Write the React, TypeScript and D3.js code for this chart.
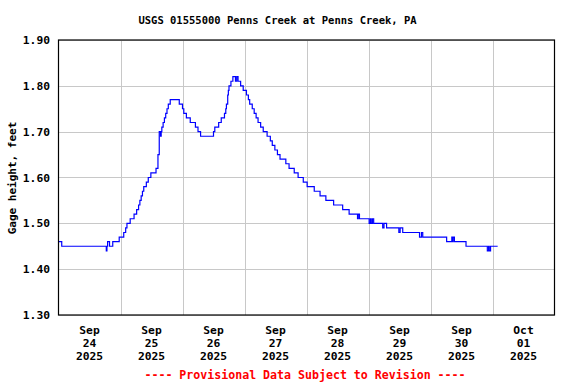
import React from "react";
import * as d3 from "d3";

// Hours since Sep 24 2025 00:00 at which the reading changes, and the new gage height (ft)
const stepHours = [
  0, 1.25, 18.5, 18.75, 19, 19.75, 21, 23.5, 25.25, 26, 26.5, 27.75, 29.25, 30.25, 31, 31.5, 32, 32.5, 33, 34,
  34.75, 35.75, 37.75, 38.5, 39, 39.5, 39.75, 40, 40.5, 41, 41.5, 42, 42.5, 43.25, 46.75, 48, 48.5, 49.5, 51, 53,
  54, 55, 60, 60.5, 62, 63, 64.25, 64.75, 65, 65.5, 65.75, 66, 66.75, 67.5, 68.5, 69, 69.5, 70.5, 71.5, 72.75,
  73.5, 74, 75, 75.75, 76.5, 77.25, 78.25, 79.25, 80.75, 82, 82.75, 83.75, 84.75, 85.75, 88, 89.25, 91.25, 92.75, 94.75, 96.25,
  99, 101.25, 103.5, 106.5, 110, 112.5, 115.75, 116, 116.5, 120.25, 120.75, 121, 121.5, 122, 125.5, 126, 127, 131.75,
  132.25, 133.25, 139.75, 140.5, 141, 150.25, 152.25, 152.5, 152.75, 153.25, 157.75, 166, 166.5, 166.75, 167.25, 170,
];
const stepValues = [
  1.46, 1.45, 1.44, 1.45, 1.46, 1.45, 1.46, 1.47, 1.48, 1.49, 1.5, 1.51, 1.52, 1.53, 1.54, 1.55, 1.56, 1.57, 1.58, 1.59,
  1.6, 1.61, 1.62, 1.65, 1.7, 1.69, 1.7, 1.71, 1.72, 1.73, 1.74, 1.75, 1.76, 1.77, 1.76, 1.75, 1.74, 1.73, 1.72, 1.71,
  1.7, 1.69, 1.7, 1.71, 1.72, 1.73, 1.74, 1.75, 1.76, 1.78, 1.79, 1.8, 1.81, 1.82, 1.81, 1.82, 1.81, 1.8, 1.79, 1.78,
  1.77, 1.76, 1.75, 1.74, 1.73, 1.72, 1.71, 1.7, 1.69, 1.68, 1.67, 1.66, 1.65, 1.64, 1.63, 1.62, 1.61, 1.6, 1.59, 1.58,
  1.57, 1.56, 1.55, 1.54, 1.53, 1.52, 1.51, 1.52, 1.51, 1.5, 1.51, 1.5, 1.51, 1.5, 1.49, 1.5, 1.49, 1.48,
  1.49, 1.48, 1.47, 1.48, 1.47, 1.46, 1.47, 1.46, 1.47, 1.46, 1.45, 1.44, 1.45, 1.44, 1.45, 1.45,
];

const yTicks = [1.3, 1.4, 1.5, 1.6, 1.7, 1.8, 1.9];
const dayMonths = ["Sep", "Sep", "Sep", "Sep", "Sep", "Sep", "Sep", "Oct"];
const dayNumbers = ["24", "25", "26", "27", "28", "29", "30", "01"];
const dayYears = ["2025", "2025", "2025", "2025", "2025", "2025", "2025", "2025"];

const title = "USGS 01555000 Penns Creek at Penns Creek, PA";
const yTitle = "Gage height, feet";
const footer = "---- Provisional Data Subject to Revision ----";

const W = 576;
const H = 384;
const M = { left: 58.5, right: 554.5, top: 40, bottom: 315 };
const FONT = "'DejaVu Sans Mono', 'Liberation Mono', monospace";

const start = new Date(2025, 8, 24, 0, 0);
const end = new Date(2025, 9, 2, 0, 0);

export default function App() {
  const x = d3.scaleTime().domain([start, end]).range([M.left, M.right]);
  const y = d3.scaleLinear().domain([1.3, 1.9]).range([M.bottom, M.top]);

  const data = stepHours.map((h, i) => ({
    t: new Date(start.getTime() + h * 3600 * 1000),
    v: stepValues[i],
  }));
  const line = d3
    .line<{ t: Date; v: number }>()
    .x((d) => x(d.t))
    .y((d) => y(d.v))
    .curve(d3.curveStepAfter);

  const dayStarts = d3.timeDay.range(start, end);
  const gridDays = dayStarts.slice(1);

  return (
    <svg
      width={W}
      height={H}
      style={{ position: "absolute", left: 0, top: 0, background: "#fff" }}
      fontFamily={FONT}
      fontWeight="bold"
    >
      <rect x={0} y={0} width={W} height={H} fill="#fff" />
      <text x={277.5} y={24} textAnchor="middle" fontSize={10.5} fill="#000">
        {title}
      </text>
      {yTicks.map((t) => (
        <line
          key={"gy" + t}
          x1={M.left}
          x2={M.right}
          y1={Math.round(y(t)) + 0.5}
          y2={Math.round(y(t)) + 0.5}
          stroke="#c8c8c8"
          strokeWidth={1}
        />
      ))}
      {gridDays.map((d, i) => (
        <line
          key={"gx" + i}
          x1={Math.round(x(d)) + 0.5}
          x2={Math.round(x(d)) + 0.5}
          y1={M.top}
          y2={M.bottom}
          stroke="#c8c8c8"
          strokeWidth={1}
        />
      ))}
      <path d={line(data) || ""} fill="none" stroke="#0000ff" strokeWidth={1.2} />
      <rect
        x={M.left}
        y={M.top}
        width={M.right - M.left}
        height={M.bottom - M.top}
        fill="none"
        stroke="#000"
        strokeWidth={1.2}
      />
      {yTicks.map((t) => (
        <text key={"yl" + t} x={50} y={y(t) + 4} textAnchor="end" fontSize={11.3} fill="#000">
          {t.toFixed(2)}
        </text>
      ))}
      <text
        transform={`translate(16, 178) rotate(-90)`}
        textAnchor="middle"
        fontSize={11}
        fill="#000"
      >
        {yTitle}
      </text>
      {dayStarts.map((d, i) => {
        const cx = x(d3.timeHour.offset(d, 12));
        return (
          <g key={"xl" + i} fontSize={11.3} fill="#000">
            <text x={cx} y={334} textAnchor="middle">{dayMonths[i]}</text>
            <text x={cx} y={347} textAnchor="middle">{dayNumbers[i]}</text>
            <text x={cx} y={360} textAnchor="middle">{dayYears[i]}</text>
          </g>
        );
      })}
      <text x={305} y={378.5} textAnchor="middle" fontSize={11.6} fill="#ff0000">
        {footer}
      </text>
    </svg>
  );
}
